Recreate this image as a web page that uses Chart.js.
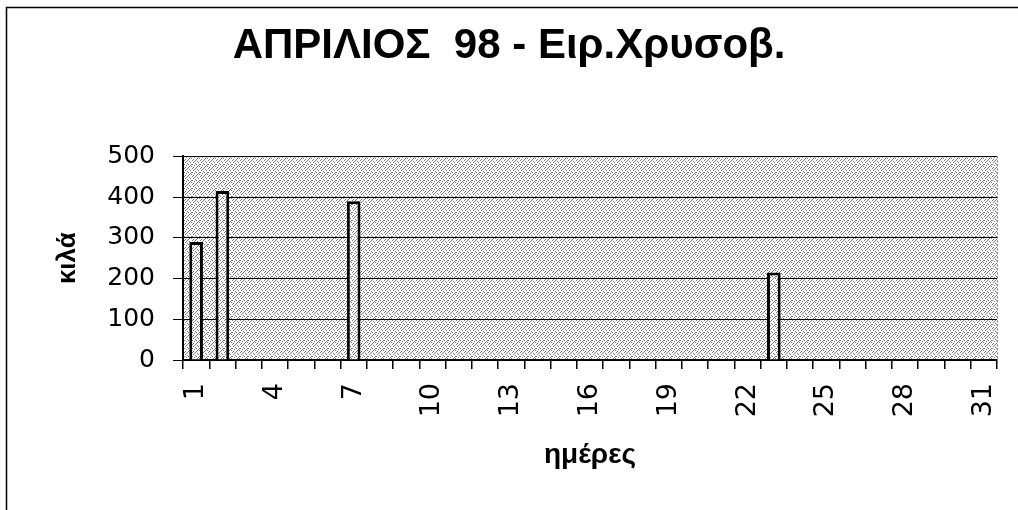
<!DOCTYPE html>
<html>
<head>
<meta charset="utf-8">
<script src="https://cdn.jsdelivr.net/npm/chart.js@4"></script>
<style>
  body { margin: 0; background: #fff; }
</style>
</head>
<body>
<canvas id="kila" width="1018" height="510"></canvas>
<script>
const titlos = 'ΑΠΡΙΛΙΟΣ  98 - Ειρ.Χρυσοβ.'
const titlos_x = 'ημέρες'
const titlos_y = 'κιλά'

// Ημέρες του μήνα
const meres = ['1', '2', '3', '4', '5', '6', '7', '8', '9', '10',
  '11', '12', '13', '14', '15', '16', '17', '18', '19', '20',
  '21', '22', '23', '24', '25', '26', '27', '28', '29', '30', '31']

// Κιλά ανά ημέρα (null = καμία παράδοση)
const kila = [290, 415, null, null, null, null, 390, null, null, null,
  null, null, null, null, null, null, null, null, null, null,
  null, null, 215, null, null, null, null, null, null, null, null]

// Ετικέτες που φαίνονται στον άξονα x
const etiketes_x = ['1', '4', '7', '10', '13', '16', '19', '22', '25', '28', '31']

// Μοτίβο με σκόρπιες κουκκίδες για το γκρι φόντο
const ftiaxe_motivo = () => {
  const c = document.createElement('canvas')
  c.width = 8
  c.height = 8
  const g = c.getContext('2d')
  g.fillStyle = '#ffffff'
  g.fillRect(0, 0, 8, 8)
  g.fillStyle = '#7a7a7a'
  const kouk = [[0, 0], [3, 0], [5, 1], [1, 2], [6, 2], [3, 3], [0, 4], [4, 4],
    [7, 4], [2, 5], [5, 6], [1, 7], [4, 7], [7, 6], [2, 1], [6, 5]]
  for (const [x, y] of kouk) g.fillRect(x, y, 1, 1)
  return g.createPattern(c, 'repeat')
}
const motivo = ftiaxe_motivo()

const fondo = {
  id: 'fondo',
  beforeDraw(chart) {
    const { ctx, chartArea: a, width, height } = chart
    ctx.save()
    ctx.fillStyle = '#ffffff'
    ctx.fillRect(0, 0, width, height)
    ctx.fillStyle = motivo
    ctx.fillRect(a.left, a.top, a.right - a.left, a.bottom - a.top)

    // δεξί όριο της περιοχής σχεδίασης
    ctx.strokeStyle = '#777'
    ctx.lineWidth = 1
    ctx.setLineDash([2, 2])
    ctx.beginPath()
    ctx.moveTo(a.right + 0.5, a.top)
    ctx.lineTo(a.right + 0.5, a.bottom)
    ctx.stroke()
    ctx.setLineDash([])

    // πλαίσιο γύρω από το γράφημα
    ctx.strokeStyle = '#000'
    ctx.lineWidth = 1.5
    ctx.beginPath()
    ctx.moveTo(6.5, height)
    ctx.lineTo(6.5, 7.5)
    ctx.lineTo(width, 7.5)
    ctx.stroke()
    ctx.restore()
  }
}

new Chart(document.getElementById('kila'), {
  type: 'bar',
  data: {
    labels: meres,
    datasets: [{
      data: kila,
      backgroundColor: motivo,
      borderColor: '#000',
      borderWidth: 3,
      barPercentage: 0.52,
      categoryPercentage: 1
    }]
  },
  options: {
    responsive: false,
    animation: false,
    layout: { padding: 0 },
    plugins: {
      legend: { display: false },
      tooltip: { enabled: false },
      title: {
        display: true,
        text: titlos,
        color: '#000',
        font: { family: 'Liberation Sans', size: 42, weight: 'bold' },
        padding: { top: 21, bottom: 85 }
      }
    },
    scales: {
      x: {
        offset: true,
        grid: { offset: true, drawOnChartArea: false, tickLength: 9, color: '#000', lineWidth: 1.5 },
        border: { color: '#000', width: 2 },
        ticks: {
          autoSkip: false,
          minRotation: 90,
          maxRotation: 90,
          padding: 14,
          color: '#000',
          font: { family: 'DejaVu Sans', size: 27 },
          callback: function (value, index) {
            const l = meres[index]
            return etiketes_x.includes(l) ? l : ''
          }
        },
        title: {
          display: true,
          text: titlos_x,
          color: '#000',
          font: { family: 'Liberation Sans', size: 28, weight: 'bold' },
          padding: { top: 0, bottom: 38 }
        },
        afterFit: (s) => {
          s.height = 150
          s.paddingLeft = 0
          s.paddingRight = 21
        }
      },
      y: {
        min: 0,
        max: 500,
        ticks: {
          stepSize: 100,
          padding: 18,
          color: '#000',
          font: { family: 'DejaVu Sans', size: 25 }
        },
        grid: { color: '#000', lineWidth: 1, tickLength: 10 },
        border: { color: '#000', width: 2 },
        title: {
          display: true,
          text: titlos_y,
          color: '#000',
          font: { family: 'Liberation Sans', size: 26, weight: 'bold' },
          padding: { top: 52, bottom: 0 }
        },
        afterFit: (s) => { s.width = 183 }
      }
    }
  },
  plugins: [fondo]
})
</script>
</body>
</html>
